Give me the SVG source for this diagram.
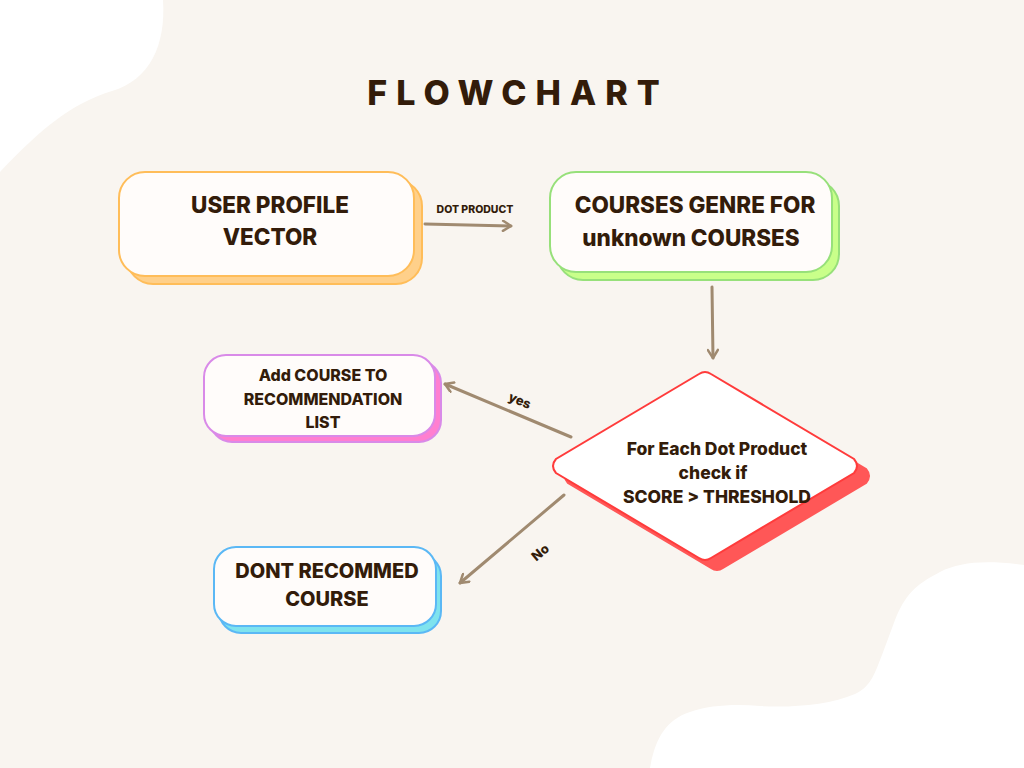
<svg xmlns="http://www.w3.org/2000/svg" width="1024" height="768" viewBox="0 0 1024 768">
<style>
.t{font-family:Inter,"Noto Sans","Liberation Sans",sans-serif;font-weight:800;fill:#331C0A;text-anchor:middle}
.main{fill:#FFFCFA;stroke-width:2}
.con{stroke:#A08A70;stroke-width:3;fill:none;stroke-linecap:round}
</style>
<defs>
<marker id="ah" viewBox="0 0 12 12" refX="10" refY="6" markerWidth="12" markerHeight="12" markerUnits="userSpaceOnUse" orient="auto">
<path d="M2,1 L10,6 L2,11" fill="none" stroke="#A08A70" stroke-width="2.5" stroke-linecap="round" stroke-linejoin="round"/>
</marker>
</defs>
<rect width="1024" height="768" fill="#F9F5F0"/>
<path d="M0,0 L163,0 C166,45 150,80 112,91 C70,104 40,130 0,172 Z" fill="#FFFFFF"/>
<path d="M650,768 C655,740 665,720 690,712 C710,705 735,704 760,706 C790,708 830,705 855,694 C872,686 875,672 882,655 L895,620 C905,595 915,585 940,572 C960,562 985,560 1024,565 L1024,768 Z" fill="#FFFFFF"/>
<text class="t" x="518" y="105" font-size="34" letter-spacing="9">FLOWCHART</text>

<g id="connectors">
<line class="con" x1="425" y1="224" x2="511" y2="226" marker-end="url(#ah)"/>
<text class="t" x="475" y="213" font-size="10.5">DOT PRODUCT</text>
<line class="con" x1="712" y1="287" x2="713" y2="358" marker-end="url(#ah)"/>
<line class="con" x1="571" y1="437" x2="445" y2="384" marker-end="url(#ah)"/>
<text class="t" x="520" y="405" font-size="13" transform="rotate(22.7 520 400)">yes</text>
<line class="con" x1="564" y1="495" x2="460" y2="583" marker-end="url(#ah)"/>
<text class="t" x="540" y="557" font-size="13" transform="rotate(-40 540 552)">No</text>
</g>

<g id="node-user-profile">
<rect x="127" y="180" width="295" height="104" rx="26" fill="#FFD08A" stroke="#FFBD59" stroke-width="2"/>
<rect class="main" x="119" y="172" width="295" height="104" rx="26" stroke="#FFBD59"/>
<text class="t" x="270" y="213" font-size="22.5">USER PROFILE</text>
<text class="t" x="270" y="245" font-size="22.5">VECTOR</text>
</g>

<g id="node-courses-genre">
<rect x="557" y="180" width="282" height="100" rx="26" fill="#C9FF8A" stroke="#97E07A" stroke-width="2"/>
<rect class="main" x="550" y="172" width="282" height="100" rx="26" stroke="#97E07A"/>
<text class="t" x="695" y="213" font-size="22.5">COURSES GENRE FOR</text>
<text class="t" x="691" y="246" font-size="22.5">unknown COURSES</text>
</g>

<g id="node-add-course">
<rect x="210" y="361" width="231" height="81" rx="22" fill="#FF7FD0" stroke="#D98AE8" stroke-width="2"/>
<rect class="main" x="204" y="355" width="231" height="81" rx="22" stroke="#D98AE8"/>
<text class="t" x="323" y="381" font-size="16">Add COURSE TO</text>
<text class="t" x="323" y="405" font-size="16">RECOMMENDATION</text>
<text class="t" x="323" y="428" font-size="16">LIST</text>
</g>

<g id="node-dont-recommend">
<rect x="219" y="554" width="222" height="79" rx="22" fill="#7FE3EE" stroke="#5BB8F5" stroke-width="2"/>
<rect class="main" x="214" y="547" width="222" height="79" rx="22" stroke="#5BB8F5"/>
<text class="t" x="327" y="578" font-size="20">DONT RECOMMED</text>
<text class="t" x="327" y="606" font-size="20">COURSE</text>
</g>

<g id="node-decision">
<path d="M699,374 Q705,370 711,374 L854,459 Q860,466 854,473 L711,558 Q705,562 699,558 L556,473 Q550,466 556,459 Z" fill="#FF5757" stroke="#FF5757" stroke-width="2" transform="translate(12,10)"/>
<path d="M699,374 Q705,370 711,374 L854,459 Q860,466 854,473 L711,558 Q705,562 699,558 L556,473 Q550,466 556,459 Z" fill="#FFFFFF" stroke="#FF3B3B" stroke-width="2"/>
<text class="t" x="717" y="455" font-size="17.5">For Each Dot Product</text>
<text class="t" x="713" y="479" font-size="17.5">check if</text>
<text class="t" x="717" y="503" font-size="17.5">SCORE &gt; THRESHOLD</text>
</g>
</svg>
